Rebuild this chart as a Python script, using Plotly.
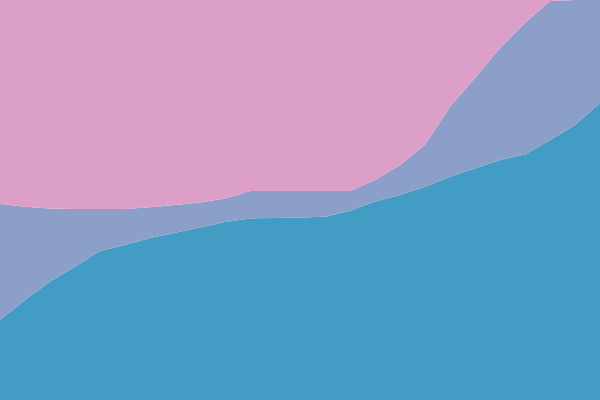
import plotly.graph_objects as go

# data (shares, stacked to 100)
steps = [0, 1, 2, 3, 4, 5, 6, 7, 8, 9, 10, 11, 12, 13, 14, 15, 16, 17, 18, 19, 20, 21, 22, 23, 24]
blue = [20, 25, 29.6, 33.3, 37.25, 38.75, 40.5, 41.8, 43.1, 44.5, 45.4, 45.5, 45.6,
        45.8, 47.3, 49.6, 51.25, 53.3, 55.8, 57.9, 60, 61.4, 65, 68.75, 74.2]
lavender = [29, 23.3, 18.3, 14.45, 10.5, 9.0, 7.7, 6.95, 6.3, 5.9, 6.85, 6.75, 6.65,
            6.45, 4.95, 5.4, 7.5, 10.45, 17.5, 22.6, 28, 32.85, 34.75, 31.25, 25.8]
pink = [51, 51.7, 52.1, 52.25, 52.25, 52.25, 51.8, 51.25, 50.6, 49.6, 47.75, 47.75, 47.75,
        47.75, 47.75, 45, 41.25, 36.25, 26.7, 19.5, 12, 5.75, 0.25, 0, 0]

fig = go.Figure()
for vals, col in [(blue, "#429cc4"), (lavender, "#8b9fc8"), (pink, "#dca0c8")]:
    fig.add_trace(go.Scatter(x=steps, y=vals, stackgroup="one", mode="none",
                             fillcolor=col, hoverinfo="skip"))

fig.update_layout(width=600, height=400, margin=dict(l=0, r=0, t=0, b=0),
                  showlegend=False, plot_bgcolor="#ffffff", paper_bgcolor="#ffffff")
fig.update_xaxes(visible=False, range=[0, 24])
fig.update_yaxes(visible=False, range=[0, 100])

# no page margin, so the areas fill the whole window
fig.write_html("out.html", config={"displayModeBar": False},
               post_script="document.body.style.margin='0';")
